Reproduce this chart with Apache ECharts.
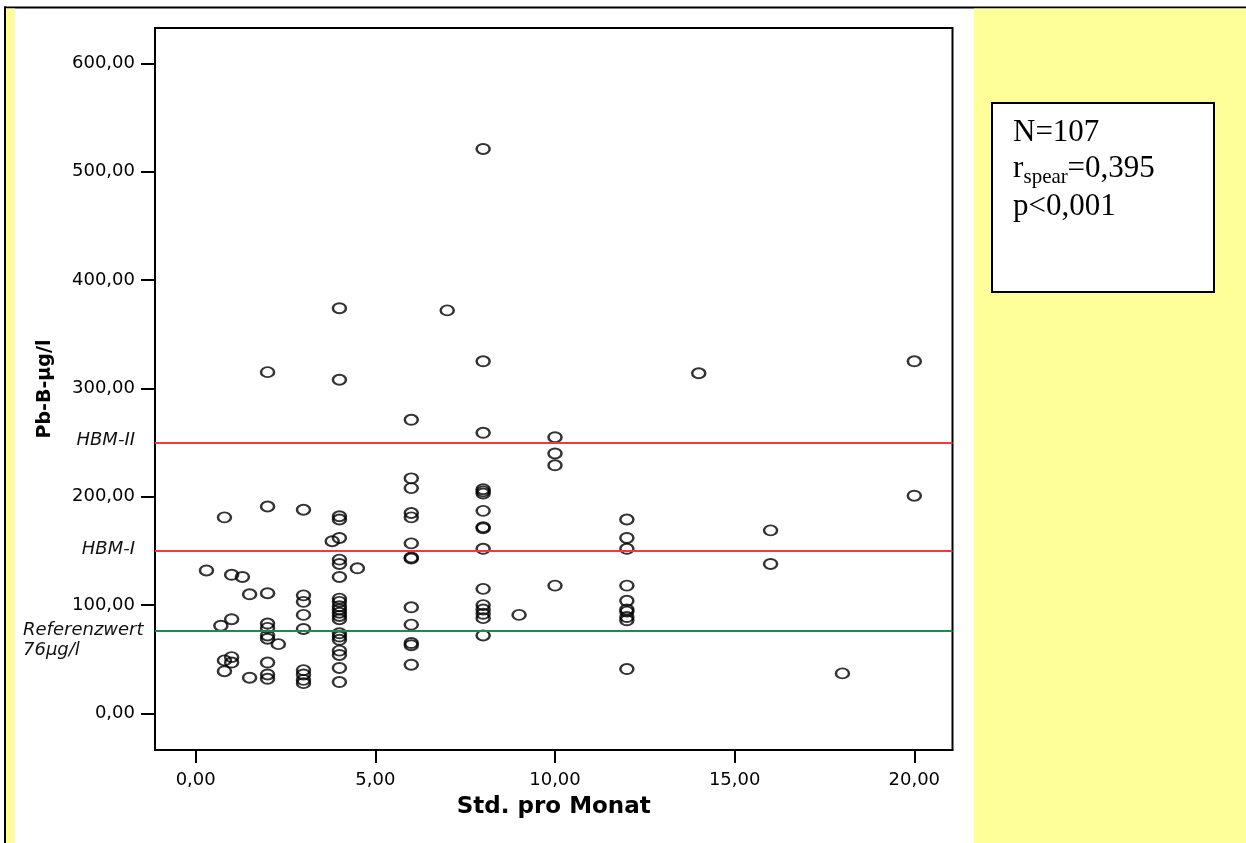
<!DOCTYPE html>
<html><head><meta charset="utf-8">
<script src="https://cdn.jsdelivr.net/npm/echarts@6/dist/echarts.min.js"></script>
<style>html,body{margin:0;padding:0;background:#fff}#c{width:1246px;height:843px}</style>
</head><body><div id="c"></div>
<script>
// Std. pro Monat (x) and Pb-B-µg/l (y), one entry per subject
const hours = [
  0.3, 0.7, 0.8, 0.8, 0.8, 1, 1, 1, 1, 1.3, 1.5, 1.5,
  2, 2, 2, 2, 2, 2, 2, 2, 2, 2, 2.3,
  3, 3, 3, 3, 3, 3, 3, 3, 3, 3.8,
  4, 4, 4, 4, 4, 4, 4, 4, 4, 4, 4, 4, 4, 4, 4, 4, 4, 4, 4, 4, 4, 4, 4.5,
  6, 6, 6, 6, 6, 6, 6, 6, 6, 6, 6, 6, 6, 7,
  8, 8, 8, 8, 8, 8, 8, 8, 8, 8, 8, 8, 8, 8, 8, 8, 9,
  10, 10, 10, 10,
  12, 12, 12, 12, 12, 12, 12, 12, 12, 12,
  14, 16, 16, 18, 20, 20
];
const pbB = [
  132, 81, 181, 49, 39, 128, 87, 52, 47, 126, 110, 33,
  315, 191, 111, 83, 79, 72, 69, 47, 36, 32, 64,
  188, 109, 103, 91, 78, 40, 36, 31, 28, 159,
  374, 308, 182, 179, 162, 142, 138, 126, 106, 103, 99, 96, 93, 90, 87, 74, 71, 68, 58, 54, 42, 29, 134,
  271, 217, 208, 185, 181, 157, 144, 143, 98, 82, 65, 63, 45, 372,
  521, 325, 259, 207, 205, 203, 187, 172, 171, 152, 115, 100, 96, 92, 88, 72, 91,
  255, 240, 229, 118,
  179, 162, 152, 118, 104, 96, 94, 89, 86, 41,
  314, 169, 138, 37, 325, 201
];
const xTicks = [0, 5, 10, 15, 20];
const yTicks = [0, 100, 200, 300, 400, 500, 600];
const refValues = [250, 150, 76];
const refLabels = ['HBM-II', 'HBM-I', 'Referenzwert\n76µg/l'];
const refColors = ['#ee3b42', '#ee3b42', '#1d8a4b'];
const statN = 'N=107';
const statR = ['r', 'spear', '=0,395'];
const statP = 'p<0,001';

const fmt = v => v.toFixed(2).replace('.', ',');
const ellipse = 'path://M20,10 C20,15.523 15.523,20 10,20 C4.477,20 0,15.523 0,10 C0,4.477 4.477,0 10,0 C15.523,0 20,4.477 20,10 Z';

const italic = {fontFamily: 'DejaVu Sans', fontStyle: 'italic', fontSize: 18, color: '#111'};
const markData = refValues.map((v, i) => {
  const item = {yAxis: v, lineStyle: {color: refColors[i], width: 2, type: 'solid'}};
  if (i < 2) {
    item.label = Object.assign({show: true, position: 'start', distance: 20, formatter: refLabels[i], offset: [0, -2]}, italic);
  } else {
    const parts = refLabels[i].split('\n');
    item.label = {show: true, position: 'start', distance: 10, padding: [18, 0, 0, 0],
      formatter: '{a|' + parts[0] + '}\n{a|' + parts[1] + '}',
      rich: {a: Object.assign({width: 122, align: 'left', lineHeight: 20}, italic)}};
  }
  return item;
});

const chart = echarts.init(document.getElementById('c'), null, {renderer: 'canvas'});
chart.setOption({
  animation: false,
  backgroundColor: '#ffffff',
  grid: {left: 155, right: 293.5, top: 28, bottom: 93, show: true, borderColor: '#000', borderWidth: 2, backgroundColor: '#fff'},
  xAxis: {
    type: 'value', min: -1.133, max: 21.063,
    name: 'Std. pro Monat', nameLocation: 'middle', nameGap: 46,
    nameTextStyle: {fontFamily: 'DejaVu Sans', fontWeight: 'bold', fontSize: 23, color: '#000'},
    axisLine: {show: true, onZero: false, lineStyle: {color: '#000', width: 2}},
    axisTick: {show: true, length: 13, lineStyle: {color: '#000', width: 2}, customValues: xTicks},
    axisLabel: {customValues: xTicks, formatter: fmt, margin: 21, fontFamily: 'DejaVu Sans', fontSize: 18, color: '#000'},
    splitLine: {show: false}
  },
  yAxis: {
    type: 'value', min: -33.7, max: 632.6,
    name: 'Pb-B-µg/l', nameLocation: 'middle', nameGap: 100,
    nameTextStyle: {fontFamily: 'DejaVu Sans', fontWeight: 'bold', fontSize: 19, color: '#000'},
    axisLine: {show: true, onZero: false, lineStyle: {color: '#000', width: 2}},
    axisTick: {show: true, length: 14, lineStyle: {color: '#000', width: 2}, customValues: yTicks},
    axisLabel: {customValues: yTicks, formatter: fmt, margin: 20, fontFamily: 'DejaVu Sans', fontSize: 18, color: '#000'},
    splitLine: {show: false}
  },
  series: [{
    type: 'scatter',
    data: hours.map((h, i) => [h, pbB[i]]),
    symbol: ellipse,
    symbolSize: [13, 10],
    itemStyle: {color: 'rgba(0,0,0,0)', borderColor: '#000', borderWidth: 2.2},
    markLine: {silent: true, symbol: ['none', 'none'], data: markData}
  }],
  graphic: [
    {type: 'rect', shape: {x: 4, y: 6.5, width: 1242, height: 2}, style: {fill: '#000'}},
    {type: 'rect', shape: {x: 4, y: 6.5, width: 2, height: 837}, style: {fill: '#000'}},
    {type: 'rect', shape: {x: 6, y: 8.5, width: 9, height: 835}, style: {fill: '#ffff99'}},
    {type: 'rect', shape: {x: 974, y: 8.5, width: 272, height: 835}, style: {fill: '#ffff99'}},
    {type: 'rect', shape: {x: 992, y: 103, width: 222, height: 189}, style: {fill: '#fff', stroke: '#000', lineWidth: 2}},
    {type: 'text', x: 1013, y: 132.5, style: {text: statN, fontFamily: 'Liberation Serif', fontSize: 31, fill: '#000', verticalAlign: 'middle'}},
    {type: 'text', x: 1013, y: 169, style: {text: statR[0], fontFamily: 'Liberation Serif', fontSize: 31, fill: '#000', verticalAlign: 'middle'}},
    {type: 'text', x: 1023.5, y: 177, style: {text: statR[1], fontFamily: 'Liberation Serif', fontSize: 21, fill: '#000', verticalAlign: 'middle'}},
    {type: 'text', x: 1067.5, y: 169, style: {text: statR[2], fontFamily: 'Liberation Serif', fontSize: 31, fill: '#000', verticalAlign: 'middle'}},
    {type: 'text', x: 1013, y: 206.5, style: {text: statP, fontFamily: 'Liberation Serif', fontSize: 31, fill: '#000', verticalAlign: 'middle'}}
  ]
});
</script></body></html>
